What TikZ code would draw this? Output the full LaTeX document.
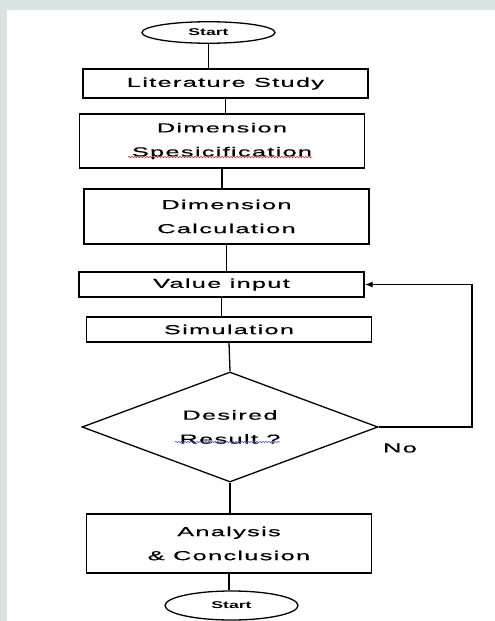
\documentclass[tikz,border=0pt]{standalone}
\usepackage{fontspec}
\usepackage{tikz}
\usetikzlibrary{shapes.geometric,arrows.meta,decorations.pathmorphing}
\newfontfamily\flowfont[FakeStretch=1.95,LetterSpace=10,FakeBold=0.5]{Liberation Sans}
\newfontfamily\termfont[FakeStretch=1.8]{Liberation Sans}
\definecolor{slidebg}{RGB}{216, 228, 228}
\definecolor{spellred}{RGB}{225, 40, 40}
\definecolor{spellblue}{RGB}{70, 90, 215}

\begin{document}
\begin{tikzpicture}[x=1pt, y=-1pt,
    stepbox/.style={draw, line width=1.3pt, rectangle, inner sep=0pt, minimum width=285pt,
        align=center, font={\flowfont\fontsize{13}{24}\selectfont}},
    terminal/.style={draw, line width=1.3pt, ellipse, inner sep=0pt, minimum width=133pt,
        font={\termfont\bfseries\fontsize{9.8}{12}\selectfont}},
    decision/.style={draw, line width=1.3pt, diamond, aspect=2.7, inner sep=0pt,
        minimum width=296pt, minimum height=110pt, align=center,
        font={\flowfont\fontsize{13}{24}\selectfont}},
    flow/.style={line width=1.3pt},
    spell/.style={line width=0.6pt, decorate, decoration={snake, amplitude=0.7pt, segment length=3pt}}]
    % Slide background
    \fill[slidebg] (0,0) rectangle (495,621);
    \fill[white] (7,10) rectangle (495,621);
    \useasboundingbox (0,0) rectangle (495,621);

    % Steps
    \node[terminal, minimum height=21.5pt] (start) at (208.5,32.5) {Start};
    \node[stepbox, minimum height=29pt] (lit) at (225.5,83.5) {Literature Study};
    \node[stepbox, minimum height=54pt] (spec) at (222,141) {Dimension\\Spesicification};
    \node[stepbox, minimum height=55pt] (calc) at (226.5,216.5) {Dimension\\Calculation};
    \node[stepbox, minimum height=25pt] (value) at (221.5,284.5) {Value input};
    \node[stepbox, minimum height=25pt] (sim) at (229,329.5) {Simulation};
    \node[decision] (check) at (230,427) {Desired\\Result ?};
    \node[stepbox, minimum height=59pt] (result) at (229,543.5) {Analysis\\\& Conclusion};
    \node[terminal, minimum height=29pt] (stop) at (231.5,605.5) {Start};
    \node[font={\flowfont\fontsize{13}{16}\selectfont}] (no) at (400,448) {No};

    % Spelling marks
    \draw[spell, spellred] ([xshift=-94pt, yshift=-16pt]spec.center) -- ([xshift=90pt, yshift=-16pt]spec.center);
    \draw[spell, spellblue] ([xshift=-55pt, yshift=-15pt]check.center) -- ([xshift=50pt, yshift=-15pt]check.center);

    % Connectors
    \draw[flow] (start.south) -- (start.south |- lit.north);
    \draw[flow] (lit.south) -- (lit.south |- spec.north);
    \draw[flow] (spec.south) -- (spec.south |- calc.north);
    \draw[flow] (calc.south) -- (calc.south |- value.north);
    \draw[flow] (value.south) -- (value.south |- sim.north);
    \draw[flow] (sim.south) -- (check.north);
    \draw[flow] (check.south) -- (check.south |- result.north);
    \draw[flow] (result.south) -- (result.south |- stop.north);

    % Loop back
    \coordinate (loop) at (472,427);
    \draw[flow, -{Latex[length=8pt, width=6pt]}] (check.east) -- (loop) |- (value.east);
\end{tikzpicture}
\end{document}
